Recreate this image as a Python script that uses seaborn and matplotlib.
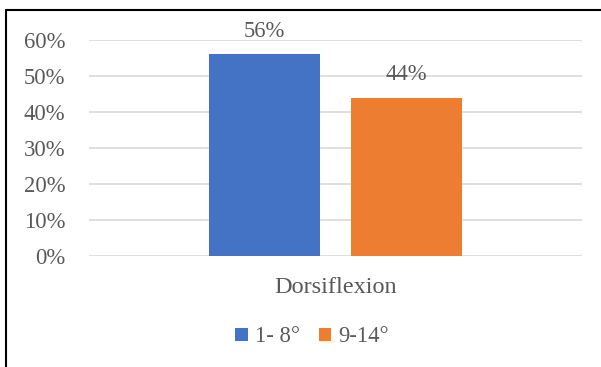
import matplotlib
matplotlib.use("Agg")
import matplotlib.pyplot as plt
from matplotlib.lines import Line2D
import seaborn as sns
import pandas as pd

# Chart data
categories = ["Dorsiflexion"]
series = ["1- 8°", "9-14°"]
values = [0.56, 0.44]
colors = ["#4472C4", "#ED7D31"]
y_ticks = [0.0, 0.1, 0.2, 0.3, 0.4, 0.5, 0.6]
y_tick_labels = ["0%", "10%", "20%", "30%", "40%", "50%", "60%"]

df = pd.DataFrame({
    "category": categories * len(series),
    "series": series,
    "value": values,
})

sns.set_theme(style="white")
plt.rcParams["font.family"] = ["Liberation Serif", "DejaVu Serif"]
text_color = "#595959"
fs = 16.3

W, H = 601, 367
fig = plt.figure(figsize=(W / 100, H / 100), dpi=100)
fig.patch.set_facecolor("white")

ax = fig.add_axes([89 / W, 1 - 256 / H, (582 - 89) / W, (256 - 40) / H])
sns.barplot(data=df, x="category", y="value", hue="series",
            palette=colors, width=0.576, gap=0.219, saturation=1,
            linewidth=0, ax=ax, legend=True, zorder=3)

ax.set_ylim(0, 0.6)
ax.set_xlim(-0.5, 0.5)
ax.set_yticks(y_ticks)
ax.set_yticklabels(y_tick_labels)
ax.set_xlabel("")
ax.set_ylabel("")
ax.yaxis.grid(True, color="#D9D9D9", linewidth=1.2, zorder=0)
ax.set_axisbelow(True)
for s in ax.spines.values():
    s.set_visible(False)
ax.tick_params(axis="y", length=0, pad=17, labelsize=fs, labelcolor=text_color)
ax.tick_params(axis="x", length=0, pad=15, labelsize=17.5, labelcolor=text_color)

for container in ax.containers:
    ax.bar_label(container, labels=[f"{v * 100:.0f}%" for v in container.datavalues],
                 padding=9, fontsize=fs, color=text_color)

leg = ax.legend(loc="center", bbox_to_anchor=(312 / W, 1 - 337 / H),
                bbox_transform=fig.transFigure, ncol=2, frameon=False,
                fontsize=fs, handlelength=0.55, handleheight=0.55,
                handletextpad=0.3, columnspacing=0.85, labelcolor=text_color)

# Outer frame around the chart area
fig.add_artist(Line2D([6 / W, 1.0], [1 - 10 / H, 1 - 10 / H],
                      transform=fig.transFigure, color="black", linewidth=1.5))
fig.add_artist(Line2D([6 / W, 6 / W], [1 - 10 / H, 0.0],
                      transform=fig.transFigure, color="black", linewidth=1.5))

fig.savefig("out.png", dpi=100, facecolor="white")
